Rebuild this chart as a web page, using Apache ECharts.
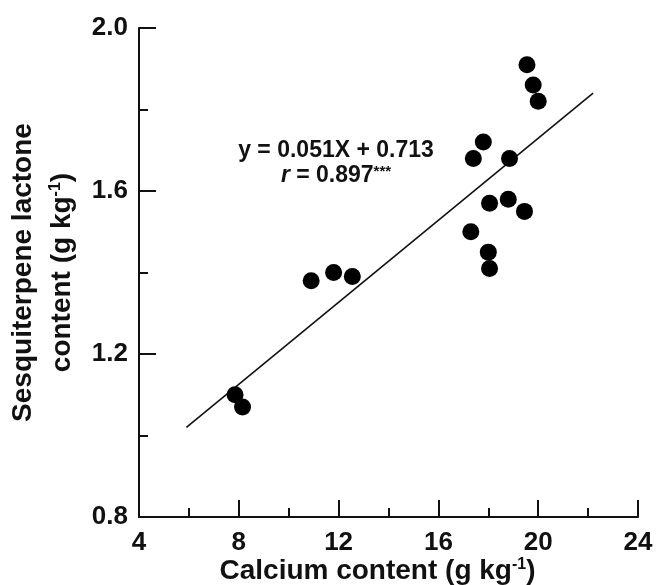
<!DOCTYPE html>
<html lang="en">
  <head>
    <meta charset="UTF-8" />
    <title>Sesquiterpene lactone vs calcium</title>
    <script src="https://cdn.jsdelivr.net/npm/echarts@6/dist/echarts.min.js"></script>
    <style>
      html, body { margin: 0; padding: 0; background: #fff; }
      .echarts { width: 657px; height: 585px; }
    </style>
  </head>
  <body>
    <div class="echarts"></div>
    <script>
      // calcium content (g/kg) and sesquiterpene lactone content (g/kg)
      const calcium = [7.85, 8.15, 10.9, 11.8, 12.55, 19.55, 19.8, 20.0, 17.8, 17.4, 18.85, 18.05, 18.8, 19.45, 17.3, 18.0, 18.05]
      const lactone = [1.10, 1.07, 1.38, 1.40, 1.39, 1.91, 1.86, 1.82, 1.72, 1.68, 1.68, 1.57, 1.58, 1.55, 1.50, 1.45, 1.41]
      // ends of the fitted line as drawn
      const fitX = [5.9, 22.2]
      const fitY = [1.02, 1.84]
      const xTicks = [4, 24, 4]     // min, max, step
      const yTicks = [0.8, 2.0, 0.4]

      const points = calcium.map((x, i) => [x, lactone[i]])
      const fitLine = fitX.map((x, i) => [x, fitY[i]])

      const font = 'Liberation Sans, Arial, sans-serif'
      const ink = '#111'

      const myCharts = echarts.init(document.querySelector('.echarts'))

      const nameStyle = { fontFamily: font, fontWeight: 'bold', fontSize: 28, color: ink }
      const supStyle = { fontFamily: font, fontWeight: 'bold', fontSize: 16, color: ink, verticalAlign: 'top', padding: [0, 0, 6, 0] }

      const axisCommon = {
        type: 'value',
        splitLine: { show: false },
        axisLine: { show: true, onZero: false, lineStyle: { color: ink, width: 2 } },
        axisTick: { show: true, inside: true, length: 17, lineStyle: { color: ink, width: 2 } },
        minorTick: { show: true, splitNumber: 2, length: 9, lineStyle: { color: ink, width: 2 } },
        axisLabel: { color: ink, fontFamily: font, fontWeight: 'bold', fontSize: 26 },
        nameLocation: 'middle',
        nameMoveOverlap: false,
        nameTextStyle: { ...nameStyle }
      }

      const option = {
        animation: false,
        grid: { left: 139, right: 19, top: 28, bottom: 68, outerBoundsMode: 'none', containLabel: false },
        xAxis: {
          ...axisCommon,
          min: xTicks[0], max: xTicks[1], interval: xTicks[2],
          axisLabel: { ...axisCommon.axisLabel, margin: 13 },
          name: '{a|Calcium content (g kg}{s|-1}{a|)}',
          nameGap: 40,
          nameTextStyle: {
            ...nameStyle,
            padding: [0, 22, 0, 0],
            rich: { a: nameStyle, s: supStyle }
          }
        },
        yAxis: {
          ...axisCommon,
          min: yTicks[0], max: yTicks[1], interval: yTicks[2],
          axisLabel: { ...axisCommon.axisLabel, margin: 11, formatter: (v) => v.toFixed(1) },
          name: '{a|Sesquiterpene lactone}\n{a|content (g kg}{s|-1}{a|)}',
          nameRotate: 90,
          nameGap: 57,
          nameTextStyle: {
            ...nameStyle,
            lineHeight: 39,
            rich: {
              a: { ...nameStyle, lineHeight: 39 },
              s: { ...supStyle, padding: [5, 0, 0, 0] }
            }
          }
        },
        series: [
          {
            type: 'line',
            data: fitLine,
            symbol: 'none',
            lineStyle: { color: ink, width: 1.6 },
            z: 1
          },
          {
            type: 'scatter',
            data: points,
            symbol: 'circle',
            symbolSize: 17,
            itemStyle: { color: '#000', opacity: 1 },
            z: 2
          }
        ],
        graphic: [
          {
            type: 'text',
            x: 336, y: 151,
            style: {
              text: 'y = 0.051X + 0.713',
              font: 'bold 23px ' + font,
              fill: ink,
              align: 'center',
              verticalAlign: 'middle'
            }
          },
          {
            type: 'text',
            x: 336, y: 176,
            style: {
              text: '{i|r}{b| = 0.897}{s|***}',
              align: 'center',
              verticalAlign: 'middle',
              rich: {
                i: { fontFamily: font, fontWeight: 'bold', fontStyle: 'italic', fontSize: 23, fill: ink },
                b: { fontFamily: font, fontWeight: 'bold', fontSize: 23, fill: ink },
                s: { fontFamily: font, fontWeight: 'bold', fontSize: 15, fill: ink, verticalAlign: 'top', padding: [0, 0, 8, 0] }
              }
            }
          }
        ]
      }

      myCharts.setOption(option)
    </script>
  </body>
</html>
